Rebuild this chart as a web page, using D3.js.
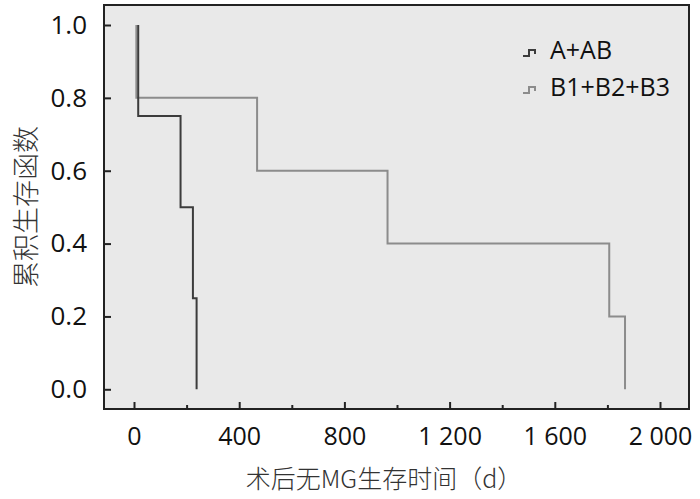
<!DOCTYPE html>
<html><head><meta charset="utf-8">
<script src="https://cdn.jsdelivr.net/npm/d3@7"></script>
<style>body{margin:0;background:#fff}svg{display:block}</style>
</head><body>
<svg id="c" width="700" height="499"></svg>
<script>
const seriesNames = ["A+AB", "B1+B2+B3"];
const timesA = [16, 177, 224, 238];
const survA  = [0.75, 0.5, 0.25, 0.0];
const timesB = [9, 468, 964, 1807, 1867];
const survB  = [0.8, 0.6, 0.4, 0.2, 0.0];
const xMajorTicks = [0, 400, 800, 1200, 1600, 2000];
const xMinorTicks = [200, 600, 1000, 1400, 1800];
const yTicks = [0, 0.2, 0.4, 0.6, 0.8, 1.0];
const xTitle = "术后无MG生存时间（d）";
const yTitle = "累积生存函数";

const svg = d3.select("#c");
const box = {l:104, r:689, t:5, b:409};
const x = d3.scaleLinear().domain([0, 2000]).range([134, 660]);
const y = d3.scaleLinear().domain([0, 1]).range([389.3, 25]);
const font = "'Open Sans', 'Noto Sans', sans-serif";
const cjk = "'Noto Sans CJK SC', sans-serif";

svg.append("rect").attr("x", box.l).attr("y", box.t)
  .attr("width", box.r - box.l).attr("height", box.b - box.t)
  .attr("fill", "#e9e9e9");

function stepPath(times, surv) {
  let pts = [[times[0], 1]];
  let prev = 1;
  for (let i = 0; i < times.length; i++) {
    if (i > 0) pts.push([times[i], prev]);
    pts.push([times[i], surv[i]]);
    prev = surv[i];
  }
  return d3.line().x(d => x(d[0])).y(d => y(d[1]))(pts);
}

svg.append("path").attr("d", stepPath(timesB, survB))
  .attr("fill", "none").attr("stroke", "#8c8c8c").attr("stroke-width", 2);
svg.append("path").attr("d", stepPath(timesA, survA))
  .attr("fill", "none").attr("stroke", "#3c3c3c").attr("stroke-width", 2);

const loc = d3.formatLocale({decimal: ".", thousands: " ", grouping: [3], currency: ["", ""]});
const xAxis = svg.append("g").attr("transform", `translate(0,${box.b})`)
  .call(d3.axisBottom(x).tickValues(xMajorTicks).tickFormat(loc.format(",")).tickSizeInner(-7).tickSizeOuter(0).tickPadding(18));
xAxis.select(".domain").remove();
xAxis.selectAll("line").attr("stroke", "#222").attr("stroke-width", 2);
xAxis.selectAll("text").attr("font-family", font).attr("font-size", 25).attr("fill", "#111");

const xMinor = svg.append("g").attr("transform", `translate(0,${box.b})`)
  .call(d3.axisBottom(x).tickValues(xMinorTicks).tickFormat("").tickSizeInner(-4).tickSizeOuter(0));
xMinor.select(".domain").remove();
xMinor.selectAll("line").attr("stroke", "#222").attr("stroke-width", 2);

const yAxis = svg.append("g").attr("transform", `translate(${box.l},0)`)
  .call(d3.axisLeft(y).tickValues(yTicks).tickFormat(d3.format(".1f")).tickSizeInner(-7).tickSizeOuter(0).tickPadding(17));
yAxis.select(".domain").remove();
yAxis.selectAll("line").attr("stroke", "#222").attr("stroke-width", 2);
yAxis.selectAll("text").attr("font-family", font).attr("font-size", 26).attr("fill", "#111");

svg.append("rect").attr("x", box.l).attr("y", box.t)
  .attr("width", box.r - box.l).attr("height", box.b - box.t)
  .attr("fill", "none").attr("stroke", "#222").attr("stroke-width", 2);

// legend
const legColors = ["#3c3c3c", "#8c8c8c"];
const leg = svg.append("g");
seriesNames.forEach((n, i) => {
  const gy = 59 + i * 37;
  leg.append("path").attr("d", `M523,${gy-3} H529 V${gy-9} H535 V${gy-5}`)
    .attr("fill", "none").attr("stroke", legColors[i]).attr("stroke-width", 2);
  leg.append("text").attr("x", 550).attr("y", gy).text(n)
    .attr("font-family", font).attr("font-size", 25).attr("fill", "#111");
});

svg.append("text").attr("x", 384).attr("y", 488).attr("text-anchor", "middle")
  .attr("font-family", cjk).attr("font-size", 25).attr("font-weight", 300).attr("fill", "#333").text(xTitle);
svg.append("text").attr("transform", "translate(36,207) rotate(-90)").attr("text-anchor", "middle")
  .attr("font-family", cjk).attr("font-size", 27).attr("font-weight", 300).attr("fill", "#333").text(yTitle);
</script>
</body></html>
